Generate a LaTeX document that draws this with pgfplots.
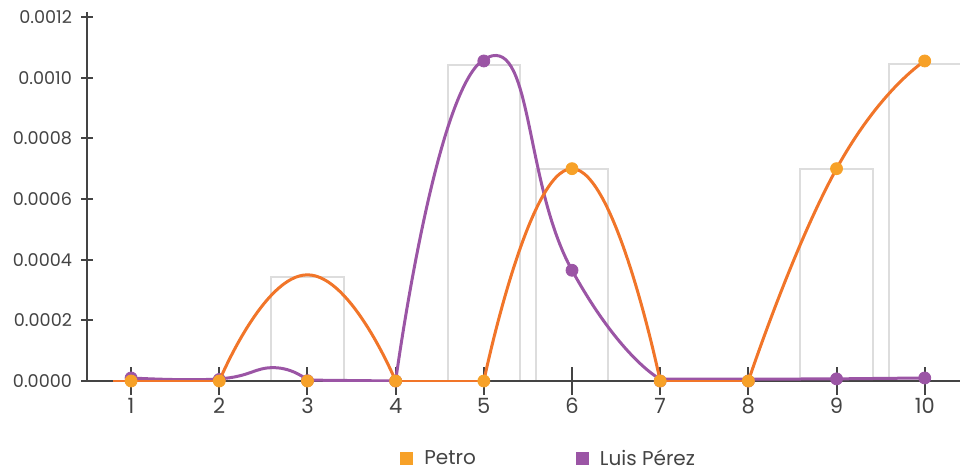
\documentclass[border=0pt]{standalone}
\usepackage{fontspec}
\setmainfont{Poppins}
\usepackage{pgfplots}
\pgfplotsset{compat=1.18}

\definecolor{axisgray}{RGB}{68,68,68}
\definecolor{bargray}{RGB}{221,221,221}
\definecolor{petroline}{RGB}{241,117,41}
\definecolor{petromark}{RGB}{247,161,40}
\definecolor{luis}{RGB}{155,85,165}

\begin{document}
\begin{tikzpicture}
\begin{axis}[
    name=ax,
    set layers,
    scale only axis,
    width=436.5pt, height=184.5pt,
    xmin=0.5, xmax=10.4,
    ymin=0, ymax=0.0012165,
    axis x line=bottom, axis y line=left,
    axis line style={-, draw=axisgray, line width=1pt},
    xtick={1,2,3,4,5,6,7,8,9,10},
    ytick={0,0.0002,0.0004,0.0006,0.0008,0.0010,0.0012},
    tick align=center,
    major tick length=6pt,
    xtick style={draw=axisgray, line width=1pt, /pgfplots/major tick length=14pt},
    ytick style={draw=axisgray, line width=1pt},
    scaled y ticks=false,
    /pgf/number format/assume math mode=true,
    yticklabel style={/pgf/number format/.cd, fixed, fixed zerofill, precision=4,
        /pgf/number format/assume math mode=true, /tikz/.cd,
        font=\fontsize{8.8}{11}\selectfont, text=axisgray, xshift=-1pt},
    xticklabel style={font=\fontsize{10.5}{12}\selectfont, text=axisgray, yshift=-2pt},
    legend style={at={(0.53,-0.211)}, anchor=center, draw=none, fill=none,
        legend columns=2, font=\fontsize{10}{12}\selectfont, text=axisgray,
        /tikz/every odd column/.append style={column sep=4pt},
        /tikz/every even column/.append style={column sep=48pt}},
    legend cell align=left,
    clip mode=individual,
]
% outlined bars
\addplot[ybar, bar width=0.82, draw=bargray, line width=1pt, fill=none, forget plot, on layer=axis background]
    coordinates {(3,0.000343) (5,0.001042) (6,0.000700) (9,0.000700) (10,0.001045)};

% Luis Perez line
\addplot[luis, line width=1.5pt, smooth, tension=0.8, forget plot]
    coordinates {(1,0.000010) (2,0.000007) (2.62,0.000044) (3,0.000003)};
\addplot[luis, line width=1.5pt, forget plot]
    coordinates {(3,0.000003) (4,0)};
\addplot[luis, line width=1.5pt, smooth, tension=1, forget plot]
    coordinates {(4,0) (5,0.001060) (6,0.000365) (7,0.000006)};
\addplot[luis, line width=1.5pt, forget plot]
    coordinates {(7,0.000006) (8,0.000006) (9,0.000007) (10,0.000010)};
\addplot[only marks, mark=*, mark size=3pt, luis, forget plot]
    coordinates {(1,0.000010) (2,0.000005) (3,0.000001) (4,0) (5,0.001055)
                 (6,0.000365) (7,0) (8,0) (9,0.000007) (10,0.000010)};

% Petro line
\addplot[petroline, line width=1.5pt, forget plot]
    coordinates {(0.8,0) (2,0)};
\addplot[petroline, line width=1.5pt, smooth, tension=0.9, forget plot]
    coordinates {(2,0) (3,0.000350) (4,0)};
\addplot[petroline, line width=1.5pt, forget plot]
    coordinates {(4,0) (5,0)};
\addplot[petroline, line width=1.5pt, smooth, tension=0.9, forget plot]
    coordinates {(5,0) (6,0.000700) (7,0)};
\addplot[petroline, line width=1.5pt, forget plot]
    coordinates {(7,0) (8,0)};
\addplot[petroline, line width=1.5pt, smooth, tension=0.9, forget plot]
    coordinates {(8,0) (9,0.000700) (10,0.001055)};
\addplot[only marks, mark=*, mark size=3pt, petromark, forget plot]
    coordinates {(1,0) (2,0) (3,0) (4,0) (5,0)
                 (6,0.000700) (7,0) (8,0) (9,0.000700) (10,0.001055)};

\addlegendimage{only marks, mark=square*, mark size=3pt, petromark}
\addlegendentry{Petro}
\addlegendimage{only marks, mark=square*, mark size=3pt, luis}
\addlegendentry{Luis Pérez}

\coordinate (BL) at (rel axis cs:0,0);
\coordinate (TR) at (rel axis cs:1,1);
\end{axis}
\pgfresetboundingbox
\path[use as bounding box] ([shift={(-43.5pt,-44.5pt)}]BL) rectangle ([shift={(0pt,6pt)}]TR);
\end{tikzpicture}
\end{document}
